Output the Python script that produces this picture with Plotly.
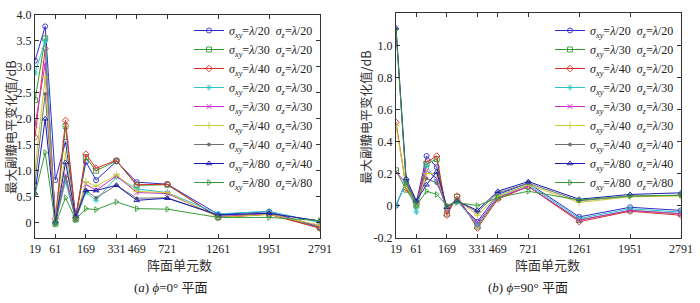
import numpy as np
import plotly.graph_objects as go

# ---------------- data ----------------
counts = [19, 37, 61, 91, 127, 169, 217, 331, 469, 721, 1261, 1951, 2791]
tick_counts = [19, 61, 169, 331, 469, 721, 1261, 1951, 2791]

series_names = [
    ("20", "20"), ("30", "20"), ("40", "20"),
    ("20", "30"), ("30", "30"), ("40", "30"),
    ("40", "40"), ("80", "40"), ("80", "80"),
]

# phi = 0 deg plane
a_s1 = [3.12, 3.78, 0.82, 1.56, 0.13, 1.17, 0.82, 1.18, 0.78, 0.74, 0.16, 0.21, -0.09]
a_s2 = [2.36, 3.55, -0.02, 1.86, 0.06, 1.26, 1.00, 1.19, 0.72, 0.73, 0.10, 0.17, -0.10]
a_s3 = [1.65, 3.35, 0.08, 1.97, 0.08, 1.32, 1.05, 1.20, 0.73, 0.74, 0.10, 0.16, -0.11]
a_s4 = [2.88, 3.50, 0.00, 0.79, 0.07, 0.58, 0.43, 0.88, 0.65, 0.58, 0.17, 0.22, 0.00]
a_s5 = [1.87, 3.06, 0.10, 0.92, 0.09, 0.74, 0.62, 0.90, 0.58, 0.56, 0.12, 0.17, -0.06]
a_s6 = [1.02, 2.80, 0.05, 1.32, 0.08, 0.79, 0.70, 0.92, 0.60, 0.58, 0.10, 0.16, -0.05]
a_s7 = [0.77, 2.48, -0.02, 0.88, 0.06, 0.62, 0.48, 0.72, 0.47, 0.48, 0.14, 0.18, 0.03]
a_s8 = [0.57, 2.00, 0.02, 1.16, 0.12, 0.62, 0.62, 0.72, 0.43, 0.47, 0.15, 0.18, 0.03]
a_s9 = [0.55, 1.35, -0.03, 0.48, 0.06, 0.27, 0.25, 0.40, 0.27, 0.26, 0.10, 0.10, 0.04]

# phi = 90 deg plane
b_s1 = [0.00, 0.15, 0.02, 0.31, 0.24, -0.02, 0.03, -0.10, 0.07, 0.14, -0.07, -0.01, -0.03]
b_s2 = [0.22, 0.10, 0.00, 0.26, 0.29, -0.05, 0.055, -0.13, 0.05, 0.12, -0.09, -0.03, -0.05]
b_s3 = [0.52, 0.11, 0.01, 0.27, 0.31, -0.06, 0.06, -0.14, 0.04, 0.12, -0.10, -0.035, -0.06]
b_s4 = [0.00, 0.15, -0.04, 0.25, 0.15, -0.01, 0.03, -0.12, 0.06, 0.13, -0.08, -0.02, -0.04]
b_s5 = [0.21, 0.14, 0.02, 0.22, 0.17, -0.03, 0.04, -0.11, 0.05, 0.12, -0.09, -0.03, -0.05]
b_s6 = [0.50, 0.12, 0.01, 0.20, 0.20, -0.02, 0.04, -0.06, 0.06, 0.13, 0.02, 0.055, 0.06]
b_s7 = [1.10, 0.15, 0.02, 0.17, 0.14, 0.00, 0.03, -0.04, 0.08, 0.14, 0.03, 0.06, 0.065]
b_s8 = [1.11, 0.17, 0.03, 0.13, 0.21, -0.01, 0.03, -0.03, 0.09, 0.15, 0.04, 0.07, 0.08]
b_s9 = [1.10, 0.14, 0.00, 0.09, 0.07, 0.00, 0.02, 0.00, 0.05, 0.09, 0.035, 0.06, 0.065]

left_series = [a_s1, a_s2, a_s3, a_s4, a_s5, a_s6, a_s7, a_s8, a_s9]
right_series = [b_s1, b_s2, b_s3, b_s4, b_s5, b_s6, b_s7, b_s8, b_s9]

# ---------------- styles ----------------
colors = ["#2b2bd0", "#2e9a2e", "#e02a2a", "#2ec4c4", "#c830c8",
          "#c8c830", "#707070", "#1a1ab0", "#3a9a3a"]
symbols = ["circle-open", "square-open", "diamond-open", "asterisk-open",
           "x-thin-open", "cross-thin-open", "circle", "triangle-up-open",
           "triangle-right-open"]
msizes = [5, 5, 5, 5, 5, 5, 3, 5, 5]


def ring(n_elem):
    # hexagonal array: N = 3n(n+1)+1 -> ring number n (axis is linear in n)
    return (np.sqrt(12 * np.asarray(n_elem, dtype=float) - 3) - 3) / 6


xv = ring(counts)
tickv = ring(tick_counts)

SERIF = "Liberation Serif, Times New Roman, serif"
CJK = "Noto Sans CJK SC"
TXT = "#222222"

fig = go.Figure()
for panel, (data, xa, ya, lg) in enumerate([
        (left_series, "x", "y", "legend"),
        (right_series, "x2", "y2", "legend2")]):
    for i, ys in enumerate(data):
        sxy, sz = series_names[i]
        name = (f"<i>σ</i><sub><i>xy</i></sub>=<i>λ</i>/{sxy}\u00a0\u00a0"
                f"<i>σ</i><sub><i>z</i></sub>=<i>λ</i>/{sz}")
        fig.add_trace(go.Scatter(
            x=xv, y=ys, mode="lines+markers", name=name,
            xaxis=xa, yaxis=ya, legend=lg,
            line=dict(color=colors[i], width=1),
            marker=dict(symbol=symbols[i], size=msizes[i], color=colors[i],
                        line=dict(color=colors[i], width=0.9)),
        ))

# body margin removed by post_script below, so page pixels == figure pixels
W, H = 700, 303
def px(xp):
    return xp / W
def py(yp):
    return 1 - yp / H

axis_common = dict(
    showline=True, linecolor="#333333", linewidth=1, mirror="ticks",
    ticks="inside", ticklen=4, tickcolor="#333333", showgrid=False,
    zeroline=False, automargin=False, tickangle=0,
    tickfont=dict(family=SERIF, size=12, color=TXT),
)

fig.update_layout(
    width=W, height=H,
    margin=dict(l=0, r=0, t=0, b=0, autoexpand=False),
    paper_bgcolor="white", plot_bgcolor="white",
    showlegend=True,
    xaxis=dict(domain=[px(35), px(320)], range=[2, 30], tickvals=tickv,
               ticktext=[str(c) for c in tick_counts], anchor="y", **axis_common),
    yaxis=dict(domain=[py(237.7), py(15)], range=[-0.29, 4.0],
               tickvals=[0, 0.5, 1.0, 1.5, 2.0, 2.5, 3.0, 3.5, 4.0],
               ticktext=["0", "0.5", "1.0", "1.5", "2.0", "2.5", "3.0", "3.5", "4.0"],
               anchor="x", **axis_common),
    xaxis2=dict(domain=[px(396), px(681)], range=[2, 30], tickvals=tickv,
                ticktext=[str(c) for c in tick_counts], anchor="y2", **axis_common),
    yaxis2=dict(domain=[py(237.7), py(13.3)], range=[-0.2, 1.2],
                tickvals=[-0.2, 0, 0.2, 0.4, 0.6, 0.8, 1.0],
                ticktext=["-0.2", "0", "0.2", "0.4", "0.6", "0.8", "1.0"],
                anchor="x2", **axis_common),
    legend=dict(x=px(318), xanchor="right", y=py(16), yanchor="top",
                bgcolor="rgba(0,0,0,0)", borderwidth=0, itemwidth=30,
                font=dict(family=SERIF, size=12, color=TXT), tracegroupgap=0),
    legend2=dict(x=px(679), xanchor="right", y=py(16), yanchor="top",
                 bgcolor="rgba(0,0,0,0)", borderwidth=0, itemwidth=30,
                 font=dict(family=SERIF, size=12, color=TXT), tracegroupgap=0),
)

ann = []
ytitle = "最大副瓣电平变化值/dB"
common_ann = dict(xref="paper", yref="paper", showarrow=False,
                  xanchor="center", yanchor="middle")
ann.append(dict(text=ytitle, x=px(10), y=py(128), textangle=-90,
                font=dict(family=CJK, size=12.5, color="#333333"), **common_ann))
ann.append(dict(text=ytitle, x=px(365), y=py(118), textangle=-90,
                font=dict(family=CJK, size=12.5, color="#333333"), **common_ann))
for xc in (180, 547):
    ann.append(dict(text="阵面单元数", x=px(xc), y=py(264),
                    font=dict(family=CJK, size=13, color="#333333"), **common_ann))
ann.append(dict(text="(<i>a</i>) <i>ϕ</i>=0° 平面", x=px(170), y=py(287),
                font=dict(family=SERIF + ", " + CJK, size=13, color="#222222"),
                **common_ann))
ann.append(dict(text="(<i>b</i>) <i>ϕ</i>=90° 平面", x=px(528), y=py(287),
                font=dict(family=SERIF + ", " + CJK, size=13, color="#222222"),
                **common_ann))
fig.update_layout(annotations=ann)

fig.write_html("out.html",
               config={"displayModeBar": False},
               post_script="document.body.style.margin='0';")
